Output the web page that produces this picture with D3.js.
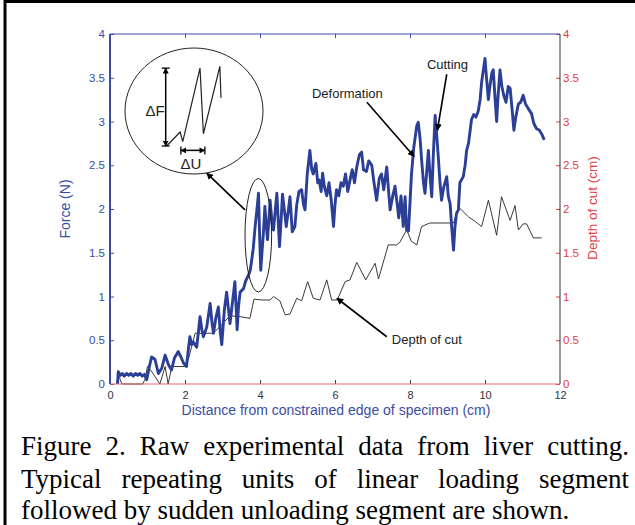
<!DOCTYPE html>
<html><head><meta charset="utf-8">
<script src="https://cdn.jsdelivr.net/npm/d3@7"></script>
<style>body{margin:0;background:#fff}svg{display:block}</style>
</head><body><svg id="c" width="635" height="525"></svg>
<script>
// ---------- data ----------
const xTicks = [0, 2, 4, 6, 8, 10, 12];
const xTickLabels = ["0", "2", "4", "6", "8", "10", "12"];
const yTicks = [0, 0.5, 1, 1.5, 2, 2.5, 3, 3.5, 4];
const yTickLabels = ["0", "0.5", "1", "1.5", "2", "2.5", "3", "3.5", "4"];

// Force (N) vs distance (cm)
const forceSeries = [
 [0.20,0.00],[0.22,0.14],[0.28,0.10],[0.33,0.12],[0.38,0.09],[0.44,0.12],[0.50,0.10],[0.56,0.12],
 [0.62,0.09],[0.68,0.12],[0.74,0.10],[0.80,0.12],[0.86,0.09],[0.92,0.11],[0.98,0.05],[1.05,0.20],
 [1.11,0.31],[1.20,0.28],[1.29,0.12],[1.38,0.18],[1.47,0.33],[1.56,0.22],[1.64,0.16],[1.72,0.30],
 [1.82,0.37],[1.90,0.30],[1.96,0.24],[2.04,0.20],[2.09,0.40],[2.13,0.54],[2.18,0.45],[2.22,0.48],
 [2.31,0.42],[2.36,0.60],[2.40,0.77],[2.45,0.62],[2.49,0.54],[2.58,0.65],[2.63,0.80],[2.67,0.92],
 [2.72,0.70],[2.76,0.58],[2.82,0.75],[2.89,0.88],[2.94,0.60],[2.98,0.45],[3.05,0.85],[3.11,1.05],
 [3.16,0.85],[3.20,0.69],[3.27,0.95],[3.33,1.17],[3.36,0.90],[3.39,0.62],[3.43,0.90],[3.47,1.05],
 [3.56,1.09],[3.62,1.18],[3.69,1.24],[3.74,1.30],[3.78,1.42],[3.82,1.55],[3.87,1.80],[3.92,2.00],
 [3.96,2.18],[3.99,1.70],[4.02,1.30],[4.06,1.55],[4.09,1.72],[4.13,2.03],[4.16,1.85],[4.20,1.65],
 [4.24,1.90],[4.27,2.10],[4.33,1.80],[4.36,1.76],[4.40,1.95],[4.45,2.18],[4.52,1.57],[4.56,1.85],
 [4.60,2.17],[4.66,1.95],[4.70,1.80],[4.76,2.00],[4.80,2.14],[4.86,1.74],[4.93,1.80],[4.98,2.05],
 [5.04,2.20],[5.11,2.22],[5.16,2.05],[5.20,1.99],[5.26,2.40],[5.33,2.67],[5.38,2.45],[5.42,2.40],
 [5.49,2.52],[5.54,2.30],[5.58,2.33],[5.63,2.20],[5.67,2.41],[5.72,2.25],[5.78,2.15],[5.84,2.30],
 [5.90,2.10],[5.96,1.80],[6.00,2.05],[6.04,2.22],[6.10,2.15],[6.16,2.30],[6.22,2.26],[6.28,2.40],
 [6.34,2.20],[6.40,2.33],[6.46,2.45],[6.52,2.30],[6.58,2.48],[6.65,2.62],[6.71,2.65],[6.76,2.45],
 [6.84,2.43],[6.90,2.55],[6.98,2.50],[7.04,2.30],[7.11,2.10],[7.18,2.35],[7.24,2.40],[7.30,2.22],
 [7.38,2.48],[7.43,2.20],[7.47,1.99],[7.54,2.15],[7.60,2.26],[7.66,2.05],[7.70,1.90],[7.76,2.15],
 [7.82,1.80],[7.87,2.14],[7.91,1.76],[7.96,1.75],[8.04,2.40],[8.10,2.70],[8.18,2.95],[8.22,2.99],
 [8.27,2.80],[8.31,2.56],[8.36,2.30],[8.40,2.18],[8.45,2.45],[8.49,2.67],[8.54,2.35],[8.58,2.14],
 [8.62,2.60],[8.67,3.07],[8.72,2.80],[8.76,2.56],[8.80,2.30],[8.84,2.10],[8.90,2.25],[8.98,2.37],
 [9.02,2.15],[9.07,2.06],[9.11,1.80],[9.16,1.53],[9.20,1.80],[9.24,1.95],[9.29,1.99],[9.33,2.30],
 [9.42,2.37],[9.47,2.50],[9.51,2.67],[9.56,2.75],[9.64,3.02],[9.70,3.08],[9.76,3.05],[9.82,3.12],
 [9.87,3.25],[9.91,3.45],[9.96,3.60],[10.00,3.72],[10.04,3.50],[10.09,3.25],[10.13,3.40],[10.18,3.55],
 [10.22,3.59],[10.27,3.25],[10.31,3.00],[10.35,3.30],[10.40,3.59],[10.45,3.40],[10.50,3.30],[10.56,3.22],
 [10.62,3.40],[10.67,3.38],[10.72,3.15],[10.77,2.90],[10.82,3.05],[10.89,3.20],[10.95,3.22],[11.02,3.30],
 [11.08,3.20],[11.15,3.15],[11.24,3.09],[11.30,2.98],[11.37,2.92],[11.45,2.90],[11.52,2.85],[11.58,2.79]
];

// Depth of cut (cm) vs distance (cm)
const depthSeries = [
 [0.20,0.00],[0.23,0.15],[0.27,0.05],[0.32,0.00],[0.87,0.00],[0.93,0.05],[1.00,0.20],[1.10,0.15],
 [1.33,0.00],[1.47,0.20],[1.55,0.00],[1.65,0.20],[2.00,0.20],[2.10,0.30],[2.27,0.58],[2.75,0.58],
 [2.85,0.62],[3.20,0.78],[3.47,0.77],[3.73,0.75],[3.84,0.97],[4.05,0.96],[4.27,0.96],[4.36,1.00],
 [4.53,0.95],[4.67,0.79],[4.80,0.80],[4.98,0.98],[5.11,0.95],[5.27,1.17],[5.42,0.98],[5.60,0.96],
 [5.78,1.19],[5.91,0.96],[6.06,0.96],[6.27,1.17],[6.40,1.19],[6.58,1.39],[6.82,1.19],[7.07,1.38],
 [7.16,1.20],[7.42,1.59],[7.64,1.59],[7.73,1.62],[7.91,1.76],[8.04,1.63],[8.18,1.59],[8.31,1.80],
 [8.53,1.84],[9.16,1.84],[9.30,2.02],[9.56,1.91],[9.73,1.86],[9.91,1.80],[10.09,2.10],[10.31,1.70],
 [10.44,2.14],[10.67,1.87],[10.80,2.04],[10.89,1.76],[11.02,1.83],[11.11,1.83],[11.29,1.67],[11.51,1.67]
];

// ---------- drawing ----------
const BLUE = "#3a4c9f", LINEBLUE = "#2c3f97", RED = "#e2403f", REDLINE = "#e86a6a", DARK = "#333";
const SANS = "'Liberation Sans', Arial, Helvetica, sans-serif";
const SERIF = "'Liberation Serif', 'Times New Roman', serif";
const svg = d3.select("#c");

// frame
svg.append("line").attr("x1",5).attr("x2",5).attr("y1",0).attr("y2",525).attr("stroke","#000").attr("stroke-width",3);
svg.append("line").attr("x1",5).attr("x2",635).attr("y1",1.5).attr("y2",1.5).attr("stroke","#000").attr("stroke-width",3);

const x = d3.scaleLinear().domain([0,12]).range([110,560]);
const y = d3.scaleLinear().domain([0,4]).range([384,34]);
const y2 = d3.scaleLinear().domain([0,4]).range([384,34]);

function styleAxis(g, col, fs){
  g.select(".domain").remove();
  g.selectAll("line").attr("stroke", col);
  g.selectAll("text").attr("fill", col).attr("font-family", SANS).attr("font-size", fs);
}
// top (no labels)
svg.append("g").attr("transform","translate(0,34)")
  .call(d3.axisTop(x).tickValues(xTicks.slice(1,-1)).tickSizeInner(-4).tickSizeOuter(0).tickFormat(""))
  .call(g=>styleAxis(g,BLUE,11));
// bottom
svg.append("g").attr("transform","translate(0,384)")
  .call(d3.axisBottom(x).tickValues(xTicks).tickSizeInner(-4).tickSizeOuter(0).tickPadding(7)
     .tickFormat((d,i)=>xTickLabels[i]))
  .call(g=>styleAxis(g,DARK,11))
  .call(g=>g.selectAll(".tick").filter(d=>d===0||d===12).select("line").remove());
// left
svg.append("g").attr("transform","translate(110,0)")
  .call(d3.axisLeft(y).tickValues(yTicks).tickSizeInner(-4).tickSizeOuter(0).tickPadding(5)
     .tickFormat((d,i)=>yTickLabels[i]))
  .call(g=>styleAxis(g,BLUE,11.5));
// right
svg.append("g").attr("transform","translate(560,0)")
  .call(d3.axisRight(y2).tickValues(yTicks).tickSizeInner(-4).tickSizeOuter(0).tickPadding(3)
     .tickFormat((d,i)=>yTickLabels[i]))
  .call(g=>styleAxis(g,RED,11.5));

// axis lines
svg.append("line").attr("x1",x(0)).attr("x2",x(12)).attr("y1",y(4)).attr("y2",y(4)).attr("stroke",BLUE).attr("stroke-width",1.2);
svg.append("line").attr("x1",x(12)).attr("x2",x(12)).attr("y1",y(4)).attr("y2",y(0)).attr("stroke",DARK).attr("stroke-width",1);

// data lines
const lineF = d3.line().x(d=>x(d[0])).y(d=>y(d[1]));
const lineD = d3.line().x(d=>x(d[0])).y(d=>y2(d[1]));
svg.append("path").datum(depthSeries).attr("d",lineD).attr("fill","none").attr("stroke","#222").attr("stroke-width",0.9);
svg.append("path").datum(forceSeries).attr("d",lineF).attr("fill","none").attr("stroke",LINEBLUE)
  .attr("stroke-width",2.9).attr("stroke-linejoin","round");

svg.append("line").attr("x1",x(0)).attr("x2",x(12)).attr("y1",y(0)).attr("y2",y(0)).attr("stroke",REDLINE).attr("stroke-width",1.2);
svg.append("line").attr("x1",x(0)).attr("x2",x(0)).attr("y1",y(4)).attr("y2",y(0)).attr("stroke",BLUE).attr("stroke-width",2);

// axis titles
svg.append("text").attr("x",336).attr("y",415).attr("text-anchor","middle").attr("fill",BLUE)
  .attr("font-family",SANS).attr("font-size",14).text("Distance from constrained edge of specimen (cm)");
svg.append("text").attr("transform","translate(70,209) rotate(-90)").attr("text-anchor","middle").attr("fill",BLUE)
  .attr("font-family",SANS).attr("font-size",14).text("Force (N)");
svg.append("text").attr("transform","translate(597,208) rotate(-90)").attr("text-anchor","middle").attr("fill",RED)
  .attr("font-family",SANS).attr("font-size",13.5).text("Depth of cut (cm)");

// ---------- annotations ----------
const defs = svg.append("defs");
defs.append("marker").attr("id","ah").attr("viewBox","0 0 10 10").attr("refX",9).attr("refY",5)
  .attr("markerWidth",7).attr("markerHeight",7).attr("markerUnits","userSpaceOnUse").attr("orient","auto")
  .append("path").attr("d","M0,0L10,5L0,10Z").attr("fill","#000");
defs.append("marker").attr("id","ahs").attr("viewBox","0 0 10 10").attr("refX",9).attr("refY",5)
  .attr("markerWidth",6).attr("markerHeight",6).attr("markerUnits","userSpaceOnUse").attr("orient","auto-start-reverse")
  .append("path").attr("d","M0,0L10,5L0,10Z").attr("fill","#000");

function arrow(a,b,w){
  svg.append("line").attr("x1",x(a[0])).attr("y1",y(a[1])).attr("x2",x(b[0])).attr("y2",y(b[1]))
    .attr("stroke","#000").attr("stroke-width",w||1.6).attr("marker-end","url(#ah)");
}
function label(t,p){
  svg.append("text").attr("x",x(p[0])).attr("y",y(p[1])).attr("dy","0.35em").attr("text-anchor","middle")
    .attr("font-family",SANS).attr("font-size",13).attr("fill","#222").text(t);
}
label("Deformation",[6.33,3.32]);
arrow([6.85,3.22],[8.11,2.60]);
label("Cutting",[9.0,3.65]);
arrow([8.98,3.54],[8.73,2.90]);
label("Depth of cut",[8.45,0.51]);
arrow([7.38,0.54],[6.05,0.98]);

// ellipses
function ell(c,r){
  svg.append("ellipse").attr("cx",x(c[0])).attr("cy",y(c[1]))
    .attr("rx",x(r[0])-x(0)).attr("ry",y(0)-y(r[1])).attr("fill","none").attr("stroke","#222").attr("stroke-width",1);
}
ell([2.24,3.12],[1.84,0.72]);
ell([3.955,1.70],[0.355,0.648]);
arrow([3.60,1.99],[2.58,2.41]);

// inset sketch
const inset = [[1.51,2.72],[1.87,2.88],[1.94,2.77],[2.40,3.61],[2.49,2.86],[2.93,3.63],[2.96,3.27]];
svg.append("path").datum(inset).attr("d",lineF).attr("fill","none").attr("stroke","#222").attr("stroke-width",1.2);
// delta F
svg.append("line").attr("x1",x(1.485)).attr("x2",x(1.485)).attr("y1",y(3.61)).attr("y2",y(2.72))
  .attr("stroke","#000").attr("stroke-width",1.5).attr("marker-start","url(#ahs)").attr("marker-end","url(#ahs)");
[3.61,2.72].forEach(v=>svg.append("line").attr("x1",x(1.485)-4).attr("x2",x(1.485)+4).attr("y1",y(v)).attr("y2",y(v)).attr("stroke","#000").attr("stroke-width",1.3));
// delta U
svg.append("line").attr("x1",x(1.89)).attr("x2",x(2.53)).attr("y1",y(2.67)).attr("y2",y(2.67))
  .attr("stroke","#000").attr("stroke-width",1.5).attr("marker-start","url(#ahs)").attr("marker-end","url(#ahs)");
[1.89,2.53].forEach(v=>svg.append("line").attr("x1",x(v)).attr("x2",x(v)).attr("y1",y(2.67)-4).attr("y2",y(2.67)+4).attr("stroke","#000").attr("stroke-width",1.3));
svg.append("text").attr("x",x(1.46)).attr("y",y(3.12)).attr("dy","0.35em").attr("text-anchor","end")
  .attr("font-family",SANS).attr("font-size",15).attr("fill","#222").text("ΔF");
svg.append("text").attr("x",x(2.16)).attr("y",y(2.52)).attr("dy","0.35em").attr("text-anchor","middle")
  .attr("font-family",SANS).attr("font-size",15).attr("fill","#222").text("ΔU");

// ---------- caption ----------
const captionLines = [
  "Figure 2. Raw experimental data from liver cutting.",
  "Typical repeating units of linear loading segment",
  "followed by sudden unloading segment are shown."
];
const capY = [455, 488, 519];
captionLines.forEach((ln,li)=>{
  const words = ln.split(" ");
  const nodes = words.map(w=>svg.append("text").attr("y",capY[li]).attr("font-family",SERIF)
     .attr("font-size",27).attr("fill","#000").text(w));
  const widths = nodes.map(n=>n.node().getComputedTextLength());
  const x0 = 21, x1 = 629;
  const gap = li < 2 ? (x1-x0-d3.sum(widths))/(words.length-1) : 6.75;
  let cx = x0;
  nodes.forEach((n,i)=>{ n.attr("x",cx); cx += widths[i]+gap; });
});
</script>
</body></html>
